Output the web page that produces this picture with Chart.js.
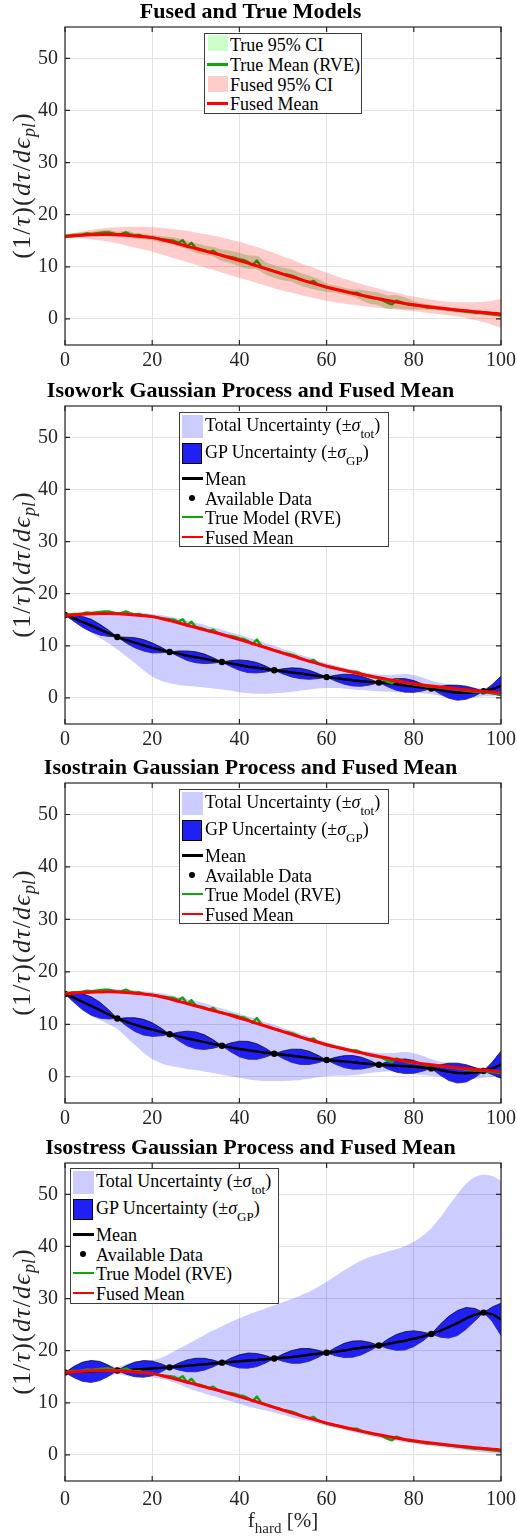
<!DOCTYPE html>
<html lang="en">
<head>
<meta charset="UTF-8">
<title>Fused and True Models</title>
<script src="https://cdn.jsdelivr.net/npm/chart.js"></script>
<style>
  body { margin: 0; background: #fff; font-family: "Liberation Serif", "Times New Roman", serif; }
  #wrap { position: relative; width: 517px; height: 1536px; overflow: hidden; }
  canvas { position: absolute; left: 0; }
  .legend { position: absolute; background: #fff; border: 1px solid #3c3c3c; box-sizing: border-box; color: #000; font-size: 18px; }
  .legend .txt { position: absolute; left: 25px; height: 20px; line-height: 20px; white-space: nowrap; }
  .legend .mk { position: absolute; box-sizing: border-box; }
  .legend sub { font-size: 13px; vertical-align: baseline; position: relative; top: 7px; line-height: 0; }
</style>
</head>
<body>
<div id="wrap">
  <canvas id="c1" width="517" height="378" style="top:0px"></canvas>
  <canvas id="c2" width="517" height="378" style="top:379px"></canvas>
  <canvas id="c3" width="517" height="380" style="top:756px"></canvas>
  <canvas id="c4" width="517" height="400" style="top:1136px"></canvas>
</div>
<script>
// ---- data ----
const xs = [0,2,4,6,8,10,12,14,16,18,20,22,24,26,28,30,32,34,36,38,40,42,44,46,48,50,
  52,54,56,58,60,62,64,66,68,70,72,74,76,78,80,82,84,86,88,90,92,94,96,98,100];
const xsFine = [0,1,2,3,4,5,6,7,8,9,10,11,12,13,14,15,16,17,18,19,20,21,22,23,24,25,26,27,28,29,
  30,31,32,33,34,35,36,37,38,39,40,41,42,43,44,45,46,47,48,49,50,51,52,53,54,55,56,57,58,59,
  60,61,62,63,64,65,66,67,68,69,70,71,72,73,74,75,76,77,78,79,80,81,82,83,84,85,86,87,88,89,
  90,91,92,93,94,95,96,97,98,99,100];
const xTicks = [0, 20, 40, 60, 80, 100];
const yTicks = [0, 10, 20, 30, 40, 50];
const dataX = [0, 12, 24, 36, 48, 60, 72, 84, 96];

// fused mean (same in every panel)
const fusedMean = [15.80,15.93,16.05,16.13,16.18,16.20,16.16,16.06,15.92,15.78,15.60,15.25,14.85,14.40,13.95,
  13.50,13.05,12.62,12.18,11.70,11.20,10.70,10.18,9.65,9.12,8.60,8.08,7.56,7.06,6.58,6.10,5.70,5.30,4.92,
  4.55,4.20,3.88,3.56,3.26,2.98,2.72,2.50,2.30,2.10,1.90,1.72,1.56,1.40,1.25,1.10,0.95];
// true model (RVE), on the fine grid
const trueMean = [15.9,16.0,16.1,16.1,16.2,16.4,16.3,16.4,16.5,16.6,16.6,16.4,16.2,16.3,16.6,16.2,16.0,16.1,
  15.8,15.7,15.6,15.5,15.3,15.2,15.1,15.0,14.6,15.1,13.9,14.6,13.6,13.4,13.2,12.8,13.1,12.4,12.2,12.0,11.9,
  11.7,11.4,11.3,10.9,10.3,11.2,10.0,9.7,9.4,9.1,8.9,8.6,8.5,8.3,8.0,7.6,7.3,7.0,7.3,6.6,6.3,6.0,5.8,5.7,
  5.5,5.3,5.1,5.0,5.0,4.6,4.3,4.1,3.9,3.8,3.5,3.1,2.8,3.5,3.2,2.9,2.7,2.6,2.5,2.4,2.2,2.2,2.1,2.0,1.9,1.8,
  1.7,1.6,1.5,1.4,1.3,1.2,1.2,1.1,1.0,0.9,0.8,0.7];
const trueHi = [16.3,16.5,16.6,16.7,17.0,17.1,16.7,16.9,16.5,16.3,16.1,15.9,15.7,15.5,15.0,14.5,14.1,13.8,
  13.3,13.1,12.7,12.2,12.1,10.9,10.3,9.8,9.5,8.8,8.3,7.7,6.8,6.4,6.0,5.7,5.6,5.3,5.0,4.5,4.6,4.1,3.4,3.0,
  2.7,2.4,2.2,2.0,1.8,1.6,1.5,1.3,1.1];
const trueLo = [15.5,15.7,15.8,15.9,16.0,16.1,15.7,15.9,15.5,15.3,15.1,14.6,14.4,13.9,13.4,12.7,12.3,12.0,
  11.1,10.7,10.1,9.6,9.5,8.5,7.9,7.4,7.1,6.4,5.9,5.5,5.2,5.0,4.6,4.3,3.6,2.9,2.6,1.9,2.0,1.8,1.8,1.8,1.7,
  1.6,1.4,1.2,1.0,0.8,0.7,0.5,0.3];
const fusedHi = [16.0,16.4,16.8,17.1,17.3,17.5,17.6,17.7,17.7,17.7,17.6,17.5,17.3,17.1,16.9,16.6,16.3,16.0,
  15.6,15.2,14.8,14.3,13.8,13.2,12.6,12.0,11.4,10.7,10.1,9.5,8.9,8.3,7.7,7.2,6.7,6.2,5.8,5.4,5.0,4.6,4.3,
  4.0,3.7,3.5,3.3,3.2,3.2,3.2,3.3,3.5,3.8];
const fusedLo = [15.6,15.6,15.5,15.3,15.1,14.8,14.5,14.1,13.7,13.3,12.9,12.4,11.9,11.4,10.9,10.4,9.9,9.4,
  8.9,8.4,7.9,7.4,6.9,6.4,5.9,5.4,5.0,4.6,4.2,3.8,3.5,3.2,2.9,2.7,2.5,2.3,2.1,2.0,1.8,1.6,1.5,1.3,1.1,
  0.9,0.7,0.5,0.2,-0.2,-0.6,-1.1,-1.7];

// isowork
const workMean = [15.9,15.3,14.6,13.9,13.1,12.4,11.7,11.1,10.6,10.1,9.6,9.2,8.8,8.5,8.1,7.8,7.5,7.2,6.9,
  6.6,6.3,6.0,5.8,5.55,5.3,5.1,4.9,4.7,4.45,4.2,4.0,3.8,3.6,3.4,3.2,3.05,2.95,2.8,2.6,2.4,2.2,2.0,1.8,
  1.5,1.2,1.0,1.0,1.1,1.3,1.7,2.3];
const workSigma = [0,0.6,1.04,1.2,1.04,0.6, 0,0.55,0.96,1.1,0.96,0.55, 0,0.52,0.91,1.05,0.91,0.52,
  0,0.58,1.0,1.15,1.0,0.58, 0,0.5,0.87,1.0,0.87,0.5, 0,0.55,0.96,1.1,0.96,0.55, 0,0.65,1.13,1.3,1.13,0.65,
  0,0.72,1.26,1.45,1.26,0.72, 0,0.9,1.9];
const workData = [15.9, 11.7, 8.8, 6.9, 5.3, 4.0, 2.95, 1.8, 1.3];
const workTotHi = [15.9,16.1,16.3,16.4,16.5,16.5,16.5,16.5,16.4,16.3,16.1,15.9,15.6,15.2,14.8,14.4,14.0,
  13.5,13.1,12.6,12.1,11.6,11.1,10.5,10.0,9.4,8.9,8.3,7.8,7.2,6.7,6.2,5.8,5.4,5.0,4.7,4.5,4.4,4.5,4.6,
  4.4,3.9,3.3,2.9,2.6,2.3,2.1,1.9,1.7,1.5,1.4];
const workTotLo = [15.9,14.9,13.5,12.5,11.5,10.5,9.3,8.0,6.7,5.3,4.1,3.3,2.8,2.5,2.3,2.2,2.0,1.8,1.6,
  1.4,1.1,0.9,0.8,0.8,0.9,1.0,1.2,1.4,1.6,1.8,1.9,1.9,1.8,1.6,1.5,1.4,1.3,1.2,1.1,1.1,1.0,0.9,0.7,0.4,
  0.1,-0.1,-0.1,0.1,0.3,0.3,0.3];

// isostrain
const strainMean = [15.8,15.1,14.3,13.5,12.7,11.9,11.1,10.5,9.95,9.45,9.0,8.55,8.1,7.7,7.3,6.95,6.6,
  6.25,5.9,5.6,5.3,5.05,4.8,4.6,4.4,4.2,4.0,3.8,3.6,3.4,3.2,3.05,2.9,2.75,2.6,2.45,2.3,2.2,2.1,2.0,1.9,
  1.75,1.6,1.3,0.95,0.7,0.65,0.8,1.1,1.6,2.3];
const strainSigma = [0,0.88,1.52,1.75,1.52,0.88, 0,0.75,1.3,1.5,1.3,0.75, 0,0.8,1.39,1.6,1.39,0.8,
  0,0.85,1.48,1.7,1.48,0.85, 0,0.72,1.26,1.45,1.26,0.72, 0,0.65,1.13,1.3,1.13,0.65, 0,0.7,1.22,1.4,1.22,0.7,
  0,0.95,1.65,1.9,1.65,0.95, 0,1.2,2.6];
const strainData = [15.8, 11.1, 8.1, 5.9, 4.4, 3.2, 2.3, 1.6, 1.1];
const strainTotHi = [15.8,16.1,16.3,16.5,16.6,16.7,16.7,16.6,16.5,16.3,16.1,15.9,15.6,15.2,14.8,14.4,
  14.0,13.5,13.0,12.5,12.0,11.5,11.0,10.4,9.9,9.3,8.8,8.2,7.7,7.1,6.6,6.1,5.7,5.3,5.0,4.7,4.5,4.5,4.6,
  4.7,4.5,4.0,3.4,2.9,2.6,2.3,2.1,1.9,1.7,1.5,1.3];
const strainTotLo = [15.8,14.6,12.8,11.6,10.8,10.0,9.1,7.6,6.1,4.6,3.4,2.6,2.1,1.8,1.5,1.3,1.0,0.7,0.4,
  0.1,-0.2,-0.5,-0.7,-0.8,-0.8,-0.8,-0.7,-0.6,-0.4,-0.1,0.1,0.2,0.2,0.3,0.5,0.7,0.9,1.0,0.9,0.7,0.5,0.3,
  0.2,0.0,-0.3,-0.6,-0.6,-0.4,-0.2,0.0,0.1];

// isostress
const stressMean = [15.8,15.9,15.95,16.0,16.1,16.15,16.2,16.3,16.4,16.5,16.6,16.7,16.8,16.95,17.1,17.25,
  17.4,17.55,17.7,17.85,17.95,18.1,18.2,18.35,18.5,18.65,18.8,19.0,19.2,19.4,19.6,19.8,20.05,20.3,20.55,
  20.8,21.0,21.3,21.6,21.9,22.3,22.7,23.2,23.8,24.5,25.3,26.2,26.9,27.3,27.0,26.0];
const stressSigma = [0,1.05,1.83,2.1,1.83,1.05, 0,0.8,1.39,1.6,1.39,0.8, 0,0.65,1.13,1.3,1.13,0.65,
  0,0.72,1.26,1.45,1.26,0.72, 0,0.7,1.22,1.4,1.22,0.7, 0,0.78,1.35,1.55,1.35,0.78, 0,0.88,1.52,1.75,1.52,0.88,
  0,1.2,2.09,2.4,2.09,1.2, 0,1.4,3.1];
const stressData = [15.8, 16.2, 16.8, 17.7, 18.5, 19.6, 21.0, 23.2, 27.3];
const stressTotHi = [15.8,17.0,17.9,18.2,18.0,17.3,16.9,17.4,17.9,18.1,18.2,18.6,19.4,20.3,21.2,22.1,
  23.0,23.9,24.7,25.5,26.2,26.9,27.5,28.1,28.7,29.3,29.9,30.6,31.3,32.2,33.2,34.3,35.4,36.4,37.3,38.0,
  38.5,39.0,39.5,40.1,40.9,42.0,43.5,45.5,47.8,50.0,52.0,53.3,53.8,53.5,52.6];
const stressTotLo = [15.8,14.8,14.1,14.0,14.4,15.1,15.5,15.2,14.9,14.9,14.9,14.6,14.2,13.6,12.9,12.3,
  11.8,11.3,10.8,10.3,9.8,9.3,8.9,8.5,8.1,7.7,7.2,6.8,6.4,6.0,5.6,5.2,4.8,4.4,4.0,3.6,3.3,3.0,2.7,2.4,
  2.2,1.9,1.7,1.5,1.3,1.1,0.9,0.7,0.5,0.3,0.1];

// ---- styling ----
const SERIF = '"Liberation Serif", "Times New Roman", serif';
const AX = '#262626';
const GRID = '#e2e2e2';
const RED = '#ff0000';
const GREEN = '#12a512';
const BLUE = '#2020f4';
const LAVENDER = 'rgba(0,0,255,0.2)';

const pts = (xv, yv) => xv.map((x, i) => ({ x: x, y: yv[i] }));
const addArr = (a, b) => a.map((v, i) => v + b[i]);
const subArr = (a, b) => a.map((v, i) => v - b[i]);

function line(data, color, width, order, extra) {
  return Object.assign({ data: data, borderColor: color, borderWidth: width, pointRadius: 0,
    fill: false, order: order, tension: 0, borderJoinStyle: 'round', borderCapStyle: 'round' }, extra || {});
}

// box with inward ticks on all four sides, drawn on top of the data
const framePlugin = {
  id: 'frame',
  afterDatasetsDraw(chart) {
    const { ctx, chartArea: a, scales } = chart;
    ctx.save();
    ctx.strokeStyle = AX;
    ctx.lineWidth = 1.2;
    ctx.beginPath();
    xTicks.forEach(v => {
      const p = scales.x.getPixelForValue(v);
      ctx.moveTo(p, a.bottom); ctx.lineTo(p, a.bottom - 5);
      ctx.moveTo(p, a.top); ctx.lineTo(p, a.top + 5);
    });
    yTicks.forEach(v => {
      const p = scales.y.getPixelForValue(v);
      ctx.moveTo(a.left, p); ctx.lineTo(a.left + 5, p);
      ctx.moveTo(a.right, p); ctx.lineTo(a.right - 5, p);
    });
    ctx.stroke();
    ctx.strokeRect(a.left, a.top, a.right - a.left, a.bottom - a.top);
    ctx.restore();
  }
};

// draws a run of text pieces: [text, style] with style r / i / s (subscript)
function drawPieces(ctx, pieces, fonts, gap, subDy) {
  let total = 0;
  pieces.forEach(p => { ctx.font = fonts[p[1]]; p.w = ctx.measureText(p[0]).width; total += p.w; });
  total += gap * (pieces.length - 1);
  let x = -total / 2;
  pieces.forEach(p => {
    ctx.font = fonts[p[1]];
    ctx.fillText(p[0], x, p[1] === 's' ? subDy : 0);
    x += p.w + gap;
  });
}

const yLabelPlugin = {
  id: 'ylab',
  afterDraw(chart) {
    const { ctx, chartArea: a } = chart;
    ctx.save();
    ctx.translate(23.5, (a.top + a.bottom) / 2);
    ctx.rotate(-Math.PI / 2);
    ctx.fillStyle = AX;
    ctx.textBaseline = 'middle';
    drawPieces(ctx,
      [['(', 'r'], ['1', 'r'], ['/', 'r'], ['τ', 'i'], [')', 'r'], ['(', 'r'], ['d', 'i'], ['τ', 'i'],
       ['/', 'r'], ['d', 'i'], ['ϵ', 'i'], ['pl', 's'], [')', 'r']],
      { r: '26px ' + SERIF, i: 'italic 26px ' + SERIF, s: 'italic 18px ' + SERIF }, 1.2, 7);
    ctx.restore();
  }
};

const xLabelPlugin = {
  id: 'xlab',
  afterDraw(chart) {
    const { ctx, chartArea: a } = chart;
    ctx.save();
    ctx.translate((a.left + a.right) / 2, a.bottom + 46);
    ctx.fillStyle = AX;
    ctx.textBaseline = 'alphabetic';
    drawPieces(ctx, [['f', 'r'], ['hard', 's'], [' [%]', 'r']],
      { r: '21px ' + SERIF, s: '15px ' + SERIF }, 0, 6);
    ctx.restore();
  }
};

function makeOptions(title, xPad, xHeight) {
  return {
    responsive: false,
    animation: false,
    events: [],
    layout: { padding: { left: 0, right: 16, top: 0, bottom: 0 } },
    plugins: {
      legend: { display: false },
      tooltip: { enabled: false },
      title: { display: true, text: title, color: '#000',
        font: { family: SERIF, size: 22, weight: 'bold', lineHeight: 1.1 },
        padding: { top: 0, bottom: 2.8 } },
      filler: { propagate: false }
    },
    scales: {
      x: {
        type: 'linear', min: 0, max: 100,
        grid: { color: GRID, drawTicks: false },
        border: { display: false },
        ticks: { color: AX, font: { family: SERIF, size: 20 }, padding: xPad, maxRotation: 0, autoSkip: false },
        afterBuildTicks: s => { s.ticks = xTicks.map(v => ({ value: v })); },
        afterFit: s => { s.height = xHeight; s.paddingLeft = 0; s.paddingRight = 0; }
      },
      y: {
        type: 'linear', min: -5, max: 56,
        grid: { color: GRID, drawTicks: false },
        border: { display: false },
        ticks: { color: AX, font: { family: SERIF, size: 20 }, padding: 7, autoSkip: false },
        afterBuildTicks: s => { s.ticks = yTicks.map(v => ({ value: v })); },
        afterFit: s => { s.width = 65; s.paddingTop = 0; s.paddingBottom = 0; }
      }
    }
  };
}

// panel 1
new Chart(document.getElementById('c1'), {
  type: 'line',
  data: {
    datasets: [
      line(pts(xs, fusedMean), RED, 3, 0, { tension: 0.3 }),
      line(pts(xs, fusedHi), 'rgba(0,0,0,0)', 0, 1, { fill: 2, backgroundColor: 'rgba(255,0,0,0.2)', tension: 0.3 }),
      line(pts(xs, fusedLo), 'rgba(0,0,0,0)', 0, 2, { tension: 0.3 }),
      line(pts(xsFine, trueMean), '#0c9a0c', 2.4, 3),
      line(pts(xs, trueHi), 'rgba(0,0,0,0)', 0, 4, { fill: 5, backgroundColor: 'rgba(70,170,40,0.33)', tension: 0.3 }),
      line(pts(xs, trueLo), 'rgba(0,0,0,0)', 0, 5, { tension: 0.3 })
    ]
  },
  options: makeOptions('Fused and True Models', 4, 33),
  plugins: [framePlugin, yLabelPlugin]
});

// panels 2-4 share one layout
function gpChart(id, title, mean, sigma, dataY, totHi, totLo, xPad, xHeight, extraPlugins) {
  new Chart(document.getElementById(id), {
    type: 'line',
    data: {
      datasets: [
        line(pts(xs, fusedMean), RED, 3, 0, { tension: 0.3 }),
        line(pts(xsFine, trueMean), GREEN, 2.5, 1),
        line(pts(dataX, dataY), '#000', 0, 2, { showLine: false, pointRadius: 3.2, pointBackgroundColor: '#000', pointBorderWidth: 0 }),
        line(pts(xs, mean), '#000', 2.5, 3),
        line(pts(xs, addArr(mean, sigma)), '#000', 0.7, 4, { fill: 5, backgroundColor: BLUE }),
        line(pts(xs, subArr(mean, sigma)), '#000', 0.7, 5),
        line(pts(xs, totHi), 'rgba(0,0,0,0)', 0, 6, { fill: 7, backgroundColor: LAVENDER, tension: 0.3 }),
        line(pts(xs, totLo), 'rgba(0,0,0,0)', 0, 7, { tension: 0.3 })
      ]
    },
    options: makeOptions(title, xPad, xHeight),
    plugins: [framePlugin, yLabelPlugin].concat(extraPlugins || [])
  });
}

gpChart('c2', 'Isowork Gaussian Process and Fused Mean', workMean, workSigma, workData, workTotHi, workTotLo, 4, 33);
gpChart('c3', 'Isostrain Gaussian Process and Fused Mean', strainMean, strainSigma, strainData, strainTotHi, strainTotLo, 4, 33);
gpChart('c4', 'Isostress Gaussian Process and Fused Mean', stressMean, stressSigma, stressData, stressTotHi, stressTotLo, 6.5, 55, [xLabelPlugin]);

// ---- legends (html, so the subscripts stay real text) ----
function addLegend(box, rows) {
  const el = document.createElement('div');
  el.className = 'legend';
  el.style.left = box[0] + 'px';
  el.style.top = box[1] + 'px';
  el.style.width = box[2] + 'px';
  el.style.height = box[3] + 'px';
  rows.forEach(r => {
    const m = document.createElement('div');
    m.className = 'mk';
    if (r.kind === 'patch') {
      Object.assign(m.style, { left: r.left + 'px', top: r.top + 'px', width: r.w + 'px', height: r.h + 'px', background: r.color });
      if (r.border) m.style.border = '1px solid #000';
    } else if (r.kind === 'line') {
      Object.assign(m.style, { left: '2px', top: (r.y - 1.3) + 'px', width: '21px', height: '2.6px', background: r.color });
    } else {
      Object.assign(m.style, { left: '9px', top: (r.y - 3) + 'px', width: '6px', height: '6px', borderRadius: '50%', background: '#000' });
    }
    el.appendChild(m);
    const t = document.createElement('div');
    t.className = 'txt';
    t.style.top = (r.ty - 10) + 'px';
    t.innerHTML = r.html;
    el.appendChild(t);
  });
  document.getElementById('wrap').appendChild(el);
}

addLegend([204, 33, 158, 81], [
  { kind: 'patch', left: 3, top: 1, w: 20, h: 16, color: '#ccffcc', ty: 10.5, html: 'True 95% CI' },
  { kind: 'line', y: 30.5, color: GREEN, ty: 30.5, html: 'True Mean (RVE)' },
  { kind: 'patch', left: 3, top: 42, w: 20, h: 16, color: '#ffcccc', ty: 50.5, html: 'Fused 95% CI' },
  { kind: 'line', y: 69.5, color: RED, ty: 70, html: 'Fused Mean' }
]);

const gpRows = [
  { kind: 'patch', left: 2, top: 2, w: 21, h: 23, color: '#ccccff', ty: 11.5, html: 'Total Uncertainty (±<i>σ</i><sub>tot</sub>)' },
  { kind: 'patch', left: 2, top: 30, w: 20, h: 21, color: BLUE, border: true, ty: 38.5, html: 'GP Uncertainty (±<i>σ</i><sub>GP</sub>)' },
  { kind: 'line', y: 65.5, color: '#000', ty: 66, html: 'Mean' },
  { kind: 'dot', y: 85, ty: 85.5, html: 'Available Data' },
  { kind: 'line', y: 104, color: GREEN, ty: 105, html: 'True Model (RVE)' },
  { kind: 'line', y: 124, color: RED, ty: 124.5, html: 'Fused Mean' }
];
addLegend([179, 412, 210, 135], gpRows);
addLegend([179, 789, 210, 135], gpRows);
addLegend([70, 1168, 209, 136], gpRows);
</script>
</body>
</html>
